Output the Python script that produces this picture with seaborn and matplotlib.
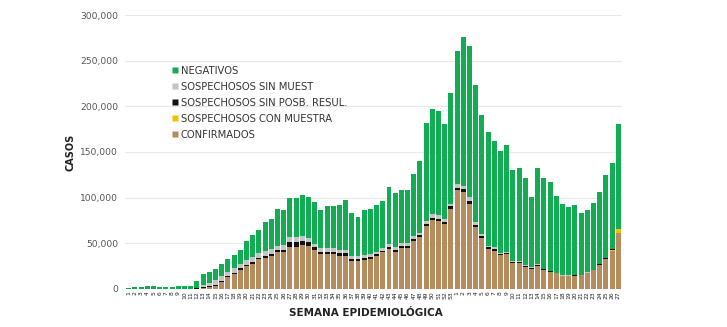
import matplotlib
matplotlib.use("Agg")
import matplotlib.pyplot as plt
import seaborn as sns
import pandas as pd
import numpy as np
from matplotlib.ticker import FuncFormatter
from matplotlib.lines import Line2D

# ---- data (thousands of cases) ----
weeks = list(range(1, 54)) + list(range(1, 28))
labels_x = [f"{'2020' if i < 53 else '2021'}-{w}" for i, w in enumerate(weeks)]

total = [1.0, 2.0, 2.5, 2.8, 2.8, 2.7, 2.7, 2.7, 2.8, 2.8, 3.6, 8.8, 16, 18.6, 21.5, 27, 32.5, 37.6, 43, 53,
         59, 64.6, 73.7, 77, 88, 87, 100, 100, 102.6, 101, 95, 87, 91, 91, 92, 97.5, 83, 79, 86, 88,
         92, 96, 112, 105.5, 108, 108, 125.5, 140.5, 182, 197.5, 195, 180.7, 215, 260.6, 275.6, 266, 223, 191, 172, 162,
         151, 158, 130, 132, 121.5, 101, 133, 121, 117, 102, 93, 90, 92, 83, 86.5, 94, 106, 125, 138, 181]
confirmados = [0, 0, 0, 0, 0, 0, 0, 0, 0, 0, 0.1, 0.3, 1.2, 2.5, 3.6, 7.7, 12.8, 16, 20.8, 25,
               27.7, 32.5, 34, 36, 40, 40, 46, 46, 48, 47, 43, 38, 38, 38, 36.5, 36.5, 30.7, 30.7, 31.8, 33,
               36, 40, 44, 40, 45, 45, 53, 56.6, 69, 75.6, 74.5, 71, 87.6, 108, 106, 93, 68, 55.5, 44, 42,
               37, 38, 29, 29, 24.5, 22, 25.5, 21, 19, 17, 14, 14, 14.6, 15, 17.5, 20.4, 26, 33, 42, 61]
con_muestra = [0] * 76 + [0.1, 0.2, 0.5, 4.4]
sin_posb = [0, 0, 0, 0, 0, 0, 0, 0, 0, 0, 0.1, 0.3, 0.8, 1, 1.1, 1.5, 1.5, 1.8, 1.8, 1.8,
            1.8, 1.8, 2, 2, 2.5, 2.2, 5, 5, 4.5, 4, 3, 2.5, 2.5, 2.5, 2.5, 2.5, 2.5, 2.5, 2.5, 2.3,
            2, 2, 2, 3, 2.5, 2.5, 2, 2, 2.5, 2.5, 2.5, 2.5, 3, 3, 3, 3.5, 2, 2, 1.5, 1.5,
            1.2, 1, 1, 1, 0.8, 0.8, 0.8, 0.7, 0.7, 0.6, 0.5, 0.5, 0.5, 0.5, 0.5, 0.6, 0.8, 0.9, 1, 0.5]
sin_muest = [0, 0.1, 0.1, 0.1, 0.1, 0.1, 0.1, 0.1, 0.1, 0.1, 0.3, 0.8, 2.5, 3.5, 5, 5, 4.7, 4.7, 4.4, 4.7,
             5, 4.7, 6, 5.5, 4.4, 6.5, 6, 6, 5.5, 5, 3.6, 4, 4, 4, 4, 4, 3, 3, 3, 3,
             3, 3, 3, 3, 3, 3, 3, 3, 3, 3.5, 3.5, 3, 3, 4, 4, 4, 3, 2.5, 2, 2,
             1.5, 1.5, 1, 1, 1, 0.8, 0.8, 0.6, 0.5, 0.4, 0.3, 0.3, 0.3, 0.3, 0.3, 0.3, 0.3, 0.3, 0.3, 0.2]

series_names = ["NEGATIVOS", "SOSPECHOSOS SIN MUEST", "SOSPECHOSOS SIN POSB. RESUL.",
                "SOSPECHOSOS CON MUESTRA", "CONFIRMADOS"]
colors = ["#12ad52", "#c4c4c4", "#111111", "#f2c200", "#b58c5e"]

df = pd.DataFrame({
    "semana": labels_x,
    "conf": np.array(confirmados) * 1000,
    "conm": np.array(con_muestra) * 1000,
    "posb": np.array(sin_posb) * 1000,
    "sinm": np.array(sin_muest) * 1000,
    "total": np.array(total) * 1000,
})
# cumulative levels (bottom-up: confirmados, con muestra, sin posb, sin muest, negativos)
df["c1"] = df["conf"]
df["c2"] = df["c1"] + df["conm"]
df["c3"] = df["c2"] + df["posb"]
df["c4"] = df["c3"] + df["sinm"]
df["c5"] = df["total"]
levels = ["c5", "c4", "c3", "c2", "c1"]

plt.rcParams["font.family"] = ["DejaVu Sans"]
fig = plt.figure(figsize=(7.27, 3.27), dpi=100)
ax = fig.add_axes([125 / 727, (327 - 289) / 327, (622 - 125) / 727, (289 - 15) / 327])

for lev, col in zip(levels, colors):
    sns.barplot(data=df, x="semana", y=lev, order=labels_x, color=col, width=0.8,
                saturation=1, ax=ax, edgecolor="none", linewidth=0, zorder=3)

ax.set_ylim(0, 300000)
ax.set_xlim(-0.6, len(labels_x) - 0.4)
ax.set_yticks(range(0, 300001, 50000))
ax.yaxis.set_major_formatter(FuncFormatter(lambda v, p: f"{int(v):,}"))
ax.tick_params(axis="y", labelsize=6.6, colors="#555555", length=0, pad=5)
ax.tick_params(axis="x", labelsize=4.3, colors="#222222", length=0, pad=1.5)
ax.set_xticks(range(len(weeks)))
ax.set_xticklabels([str(w) for w in weeks], rotation=90)
ax.grid(axis="y", color="#e8e8e8", linewidth=0.8, zorder=0)
ax.set_axisbelow(True)
for s in ax.spines.values():
    s.set_visible(False)

ax.set_ylabel("CASOS", fontsize=7, fontweight="bold", color="#222222")
ax.yaxis.set_label_coords(-0.10, 0.5)
ax.set_xlabel("SEMANA EPIDEMIOLÓGICA", fontsize=7.5, fontweight="bold", color="#222222")
ax.xaxis.set_label_coords(0.485, -0.068)

handles = [Line2D([0], [0], marker="s", linestyle="none", markersize=4, markerfacecolor=c,
                  markeredgecolor="none") for c in colors]
leg = ax.legend(handles, series_names, loc="upper left", bbox_to_anchor=(0.093, 0.815),
                frameon=False, fontsize=7.2, handletextpad=0.15, labelspacing=0.6,
                handlelength=0.8, borderaxespad=0, borderpad=0)
for t in leg.get_texts():
    t.set_color("#333333")

fig.savefig("out.png", dpi=100)
